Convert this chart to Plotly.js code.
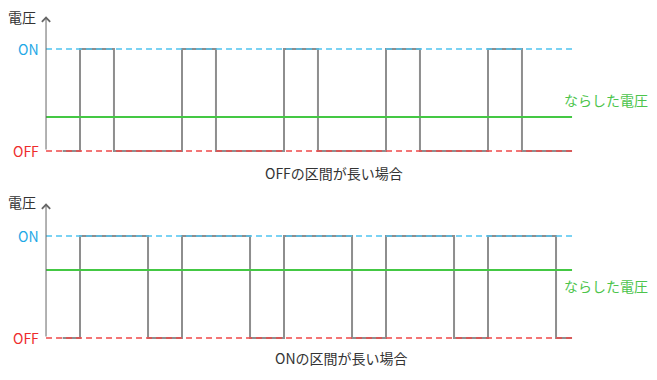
<!DOCTYPE html>
<html>
<head>
<meta charset="utf-8">
<script src="https://cdn.plot.ly/plotly-3.0.1.min.js"></script>
<style>html,body{margin:0;padding:0;background:#fff;}#chart{width:657px;height:380px;}</style>
</head>
<body>
<div id="chart"></div>
<script>
// Time in units of one PWM period; voltage 0 = OFF, 1 = ON
var tStart = -0.333;
var tEnd = 4.824;
var levelLabels = ['OFF', 'ON'];
var axisLabel = '電圧';
var avgLabel = 'ならした電圧';
var captions = ['OFFの区間が長い場合', 'ONの区間が長い場合'];

// Top panel: short ON intervals (duty 1/3)
var sigTopX = [-0.17, 0, 0.333, 1, 1.333, 2, 2.333, 3, 3.333, 4, 4.333, 4.824];
var sigTopY = [0, 1, 0, 1, 0, 1, 0, 1, 0, 1, 0, 0];
var avgTop = 0.333;

// Bottom panel: long ON intervals (duty 2/3)
var sigBotX = [-0.17, 0, 0.667, 1, 1.667, 2, 2.667, 3, 3.667, 4, 4.667, 4.824];
var sigBotY = [0, 1, 0, 1, 0, 1, 0, 1, 0, 1, 0, 0];
var avgBot = 0.667;

var axisTop = 1.32;

var W = 657, H = 380;
var FONT = '"Noto Sans CJK JP", "Noto Sans", sans-serif';
var cGrey = '#8e8e8e', cOn = '#4fc3f0', cOff = '#f04848', cAvg = '#44c844';
var cOnTxt = '#1ea8e6', cOffTxt = '#ee2b2b', cAvgTxt = '#4cc44c';

function panel(sx, sy, avg, yax) {
  return [
    {x: sx, y: sy, yaxis: yax, mode: 'lines', line: {shape: 'hv', color: cGrey, width: 2}, hoverinfo: 'skip'},
    {x: [tStart, tEnd], y: [1, 1], yaxis: yax, mode: 'lines', line: {color: cOn, width: 1.5, dash: '6px,4px'}, hoverinfo: 'skip'},
    {x: [tStart, tEnd], y: [0, 0], yaxis: yax, mode: 'lines', line: {color: cOff, width: 1.5, dash: '6px,4px'}, hoverinfo: 'skip'},
    {x: [tStart, tEnd], y: [avg, avg], yaxis: yax, mode: 'lines', line: {color: cAvg, width: 2}, hoverinfo: 'skip'}
  ];
}

var data = panel(sigTopX, sigTopY, avgTop, 'y').concat(panel(sigBotX, sigBotY, avgBot, 'y2'));

function px(x) { return x / W; }
function py(y) { return 1 - y / H; }

function labels(yref, yOnPx, yOffPx, yAvgPx, yCapPx, capX, cap, ylbl) {
  return [
    {xref: 'paper', yref: 'paper', x: px(22), y: py(ylbl), text: axisLabel, showarrow: false, font: {family: FONT, size: 14, color: '#333'}, xanchor: 'center', yanchor: 'middle'},
    {xref: 'paper', yref: 'paper', x: px(41), y: py(yOnPx), text: levelLabels[1], showarrow: false, font: {family: FONT, size: 14, color: cOnTxt}, xanchor: 'right', yanchor: 'middle'},
    {xref: 'paper', yref: 'paper', x: px(41), y: py(yOffPx), text: levelLabels[0], showarrow: false, font: {family: FONT, size: 14, color: cOffTxt}, xanchor: 'right', yanchor: 'middle'},
    {xref: 'paper', yref: 'paper', x: px(562), y: py(yAvgPx), text: avgLabel, showarrow: false, font: {family: FONT, size: 14, color: cAvgTxt}, xanchor: 'left', yanchor: 'middle'},
    {xref: 'paper', yref: 'paper', x: px(capX), y: py(yCapPx), text: cap, showarrow: false, font: {family: FONT, size: 14, color: '#333'}, xanchor: 'center', yanchor: 'middle'},
    {xref: 'x', yref: yref, axref: 'x', ayref: yref, x: tStart, y: axisTop, ax: tStart, ay: 0, showarrow: true, arrowhead: 4, arrowsize: 1.6, arrowwidth: 1, arrowcolor: '#666', standoff: 0, text: ''}
  ];
}

var annotations = labels('y', 49, 151, 100, 173, 334, captions[0], 17)
  .concat(labels('y2', 236, 338, 286, 358, 341, captions[1], 202));

var layout = {
  width: W, height: H,
  margin: {l: 0, r: 0, t: 0, b: 0, pad: 0},
  paper_bgcolor: '#fff', plot_bgcolor: 'rgba(0,0,0,0)',
  showlegend: false,
  xaxis: {range: [-80 / 102, -80 / 102 + W / 102], visible: false, fixedrange: true},
  yaxis: {range: [-(H - 151) / 102, 1 + 49 / 102], visible: false, fixedrange: true},
  yaxis2: {range: [-(H - 338) / 102, 1 + 236 / 102], visible: false, overlaying: 'y', fixedrange: true},
  annotations: annotations
};

Plotly.newPlot('chart', data, layout, {displayModeBar: false, staticPlot: true});
</script>
</body>
</html>
